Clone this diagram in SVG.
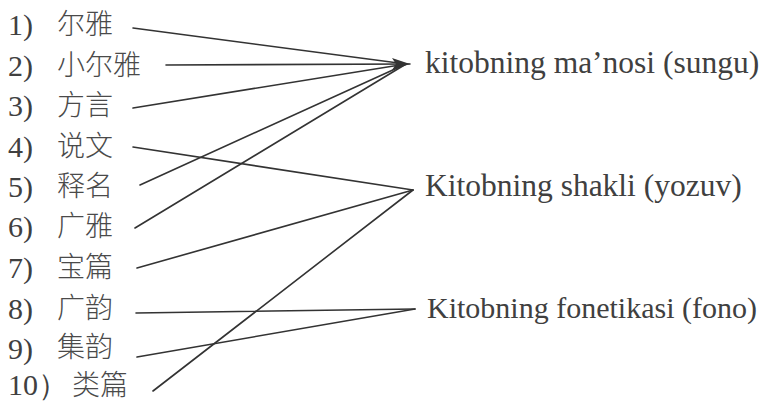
<svg xmlns="http://www.w3.org/2000/svg" width="772" height="402" viewBox="0 0 772 402">
<style>
.num{font-family:"Liberation Serif",serif;font-size:30px;fill:#404040}
.zh{font-family:"Noto Sans CJK SC",sans-serif;font-size:28px;fill:#4a4a4a;font-weight:300}
.lab{font-family:"Liberation Serif",serif;font-size:31.5px;fill:#404040}
.ln{stroke:#333;stroke-width:1.6;fill:none;stroke-linecap:round}
</style>
<defs>
<marker id="ah" markerUnits="userSpaceOnUse" markerWidth="20" markerHeight="14" refX="18" refY="7" orient="auto">
<path d="M0,1 L18,7 L0,13 L4,7 Z" fill="#333"/>
</marker>
</defs>
<rect width="772" height="402" fill="#fff"/>
<g id="connectors">
<line class="ln" x1="133" y1="28" x2="406" y2="64"/>
<line class="ln" x1="166" y1="65" x2="410" y2="64" marker-end="url(#ah)"/>
<line class="ln" x1="133" y1="108" x2="406" y2="64"/>
<line class="ln" x1="133" y1="147" x2="413" y2="190"/>
<line class="ln" x1="140" y1="185" x2="406" y2="64"/>
<line class="ln" x1="135" y1="228" x2="406" y2="64"/>
<line class="ln" x1="137" y1="268" x2="413" y2="190"/>
<line class="ln" x1="136" y1="313" x2="415" y2="309"/>
<line class="ln" x1="137" y1="357" x2="415" y2="309"/>
<line class="ln" x1="153" y1="391" x2="413" y2="190"/>
</g>
<g id="n1"><text class="num" x="8" y="35">1)</text><text class="zh" x="57" y="34">尔雅</text></g>
<g id="n2"><text class="num" x="8" y="75.5">2)</text><text class="zh" x="57" y="74.5">小尔雅</text></g>
<g id="n3"><text class="num" x="8" y="116">3)</text><text class="zh" x="57" y="115">方言</text></g>
<g id="n4"><text class="num" x="8" y="156.5">4)</text><text class="zh" x="57" y="155.5">说文</text></g>
<g id="n5"><text class="num" x="8" y="197">5)</text><text class="zh" x="57" y="196">释名</text></g>
<g id="n6"><text class="num" x="8" y="237">6)</text><text class="zh" x="57" y="236">广雅</text></g>
<g id="n7"><text class="num" x="8" y="278">7)</text><text class="zh" x="57" y="277">宝篇</text></g>
<g id="n8"><text class="num" x="8" y="318.5">8)</text><text class="zh" x="57" y="317.5">广韵</text></g>
<g id="n9"><text class="num" x="8" y="359">9)</text><text class="zh" x="57" y="357">集韵</text></g>
<g id="n10"><text class="num" x="8" y="395">10）</text><text class="zh" x="72" y="395">类篇</text></g>
<g id="t1"><text class="lab" x="425" y="73">kitobning ma’nosi (sungu)</text></g>
<g id="t2"><text class="lab" x="425" y="196">Kitobning shakli (yozuv)</text></g>
<g id="t3"><text class="lab" x="427" y="318" style="font-size:30px">Kitobning fonetikasi (fono)</text></g>
</svg>
